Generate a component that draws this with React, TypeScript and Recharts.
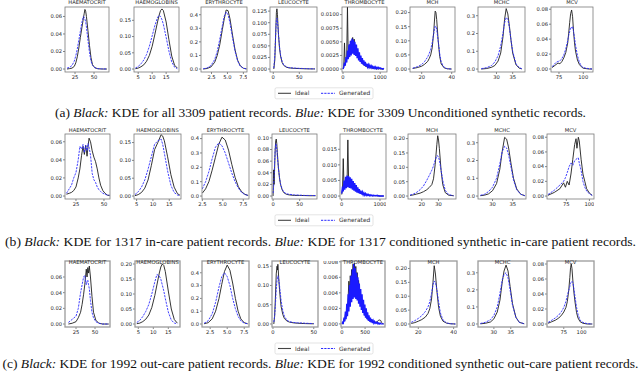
import { Line, LineChart, XAxis, YAxis } from "recharts";

// ---- shared x grids -------------------------------------------------------
const thrX20 = [0, 20, 40, 60, 80, 100, 120, 140, 160, 180, 200, 220, 240, 260, 280, 300, 320, 340, 360, 380, 400, 420, 440, 460, 480, 500, 520, 540, 560, 580, 600, 620, 640, 660, 680, 700, 720, 740, 760, 780, 800, 820, 840, 860, 880, 900, 920, 940, 960, 980, 1000, 1020, 1040, 1060, 1080, 1100];
const thrX15 = [0, 15, 30, 45, 60, 75, 90, 105, 120, 135, 150, 165, 180, 195, 210, 225, 240, 255, 270, 285, 300, 315, 330, 345, 360, 375, 390, 405, 420, 435, 450, 465, 480, 495, 510, 525, 540, 555, 570, 585, 600, 615, 630, 645, 660, 675, 690, 705, 720, 735, 750, 765, 780, 795, 810, 825, 840, 855, 870, 885, 900];

// ---- (a) all records ------------------------------------------------------
const aHctX = [14.5, 18, 21, 24, 26, 28, 30, 32, 34, 36, 37, 38, 39, 40, 42, 44, 46, 48, 51, 55, 60, 67];
const aHctIdeal = [0, 0.0005, 0.001, 0.003, 0.007, 0.014, 0.024, 0.036, 0.047, 0.058, 0.063, 0.068, 0.066, 0.06, 0.044, 0.027, 0.013, 0.005, 0.0015, 0.0003, 0, 0];
const aHctGen = [0.001, 0.002, 0.004, 0.009, 0.015, 0.023, 0.033, 0.043, 0.053, 0.06, 0.059, 0.057, 0.054, 0.048, 0.033, 0.019, 0.009, 0.004, 0.0015, 0.0005, 0.0002, 0];

const aHgbX = [4, 5, 6, 7, 8, 9, 10, 11, 12, 12.5, 13, 13.5, 14, 15, 16, 17, 18, 19];
const aHgbIdeal = [0.001, 0.003, 0.007, 0.013, 0.024, 0.042, 0.07, 0.108, 0.148, 0.166, 0.18, 0.185, 0.18, 0.145, 0.09, 0.04, 0.012, 0.003];
const aHgbGen = [0.003, 0.008, 0.016, 0.028, 0.045, 0.07, 0.102, 0.135, 0.16, 0.165, 0.162, 0.152, 0.138, 0.098, 0.055, 0.022, 0.006, 0.001];

const aEryX = [1.2, 1.8, 2.4, 3, 3.4, 3.8, 4.2, 4.5, 4.8, 5.1, 5.4, 5.8, 6.2, 6.6, 7, 7.5, 8];
const aEryIdeal = [0, 0.004, 0.015, 0.05, 0.1, 0.18, 0.29, 0.37, 0.435, 0.43, 0.37, 0.25, 0.14, 0.065, 0.025, 0.006, 0.001];
const aEryGen = [0.002, 0.008, 0.025, 0.07, 0.13, 0.22, 0.32, 0.39, 0.42, 0.4, 0.34, 0.23, 0.13, 0.06, 0.022, 0.006, 0.001];

const aLeuX = [1, 3, 5, 6, 7, 8, 9, 10, 12, 14, 17, 20, 25, 30, 40, 50, 60, 70, 80];
const aLeuIdeal = [0, 0.02, 0.09, 0.122, 0.13, 0.118, 0.095, 0.075, 0.045, 0.028, 0.014, 0.008, 0.004, 0.0025, 0.0015, 0.001, 0.0006, 0.0003, 0.0002];
const aLeuGen = [0.002, 0.03, 0.085, 0.105, 0.11, 0.104, 0.09, 0.074, 0.048, 0.03, 0.016, 0.009, 0.005, 0.003, 0.002, 0.0015, 0.001, 0.0006, 0.0004];

const aThrIdeal = [
  0, 0.0003, 0.0048, 0.0008, 0.0015, 0.0022, 0.0115, 0.0025, 0.0038, 0.0045,
  0.0032, 0.0052, 0.004, 0.0058, 0.0042, 0.0055, 0.0035, 0.0044, 0.003, 0.0036,
  0.0024, 0.0028, 0.0018, 0.0022, 0.0013, 0.0016, 0.001, 0.0012, 0.0007, 0.0009,
  0.0005, 0.0006, 0.0004, 0.0005, 0.0003, 0.0003, 0.0002, 0.0003, 0.0002, 0.0002,
  0.0001, 0.0001, 0.0002, 0.0001, 0.0001, 0, 0.0001, 0, 0, 0.0001,
  0, 0, 0, 0, 0, 0,
];
const aThrGen = [
  0, 0.0004, 0.0012, 0.0006, 0.0022, 0.0012, 0.0034, 0.0018, 0.0045, 0.0022,
  0.0052, 0.0025, 0.0056, 0.0028, 0.0054, 0.0026, 0.005, 0.0024, 0.0045, 0.002,
  0.0038, 0.0016, 0.0031, 0.0013, 0.0025, 0.001, 0.002, 0.0008, 0.0016, 0.0006,
  0.0013, 0.0005, 0.001, 0.0004, 0.0008, 0.0003, 0.0007, 0.0003, 0.0006, 0.0002,
  0.0005, 0.0002, 0.0004, 0.0001, 0.0004, 0.0001, 0.0003, 0.0001, 0.0003, 0.0001,
  0.0002, 0.0001, 0.0001, 0, 0.0001, 0,
];

const aMchX = [14, 17, 20, 22, 24, 25, 26, 27, 28, 28.5, 29, 29.5, 30, 31, 32, 33, 35, 37, 40];
const aMchIdeal = [0.002, 0.005, 0.01, 0.017, 0.027, 0.037, 0.05, 0.075, 0.13, 0.17, 0.205, 0.2, 0.175, 0.1, 0.045, 0.018, 0.004, 0.001, 0];
const aMchGen = [0.003, 0.008, 0.016, 0.027, 0.043, 0.055, 0.07, 0.092, 0.125, 0.142, 0.152, 0.15, 0.14, 0.1, 0.055, 0.024, 0.006, 0.001, 0];

const aMchcX = [25.3, 27, 28.5, 29.5, 30.5, 31.3, 32, 32.5, 33, 33.5, 34, 34.5, 35, 36, 37, 37.8];
const aMchcIdeal = [0, 0.003, 0.01, 0.02, 0.045, 0.09, 0.18, 0.28, 0.34, 0.31, 0.24, 0.16, 0.09, 0.025, 0.005, 0.001];
const aMchcGen = [0.002, 0.008, 0.02, 0.04, 0.075, 0.13, 0.2, 0.26, 0.29, 0.28, 0.23, 0.16, 0.1, 0.03, 0.008, 0.002];

const aMcvX = [68, 70, 72, 74, 76, 78, 80, 82, 84, 85, 86, 87, 88, 89, 90, 91, 92, 94, 96, 98, 100, 103, 106, 109];
const aMcvIdeal = [0.002, 0.004, 0.006, 0.008, 0.007, 0.01, 0.015, 0.022, 0.035, 0.048, 0.062, 0.074, 0.079, 0.07, 0.05, 0.035, 0.024, 0.012, 0.006, 0.003, 0.001, 0.0005, 0, 0];
const aMcvGen = [0.003, 0.006, 0.009, 0.01, 0.011, 0.014, 0.019, 0.027, 0.038, 0.045, 0.05, 0.056, 0.055, 0.057, 0.05, 0.042, 0.032, 0.018, 0.009, 0.004, 0.002, 0.001, 0.0005, 0];

// ---- (b) in-care ----------------------------------------------------------
const bHctX = [16.5, 19, 21, 23, 25, 27, 28.5, 30, 31.3, 32.5, 33.7, 34.9, 35.8, 36.7, 38, 39.5, 41, 42.5, 44, 45.5, 47, 49, 51, 53, 55];
const bHctIdeal = [0.002, 0.003, 0.004, 0.006, 0.01, 0.02, 0.03, 0.045, 0.055, 0.046, 0.056, 0.044, 0.055, 0.064, 0.06, 0.05, 0.043, 0.038, 0.03, 0.02, 0.012, 0.006, 0.003, 0.001, 0.0005];
const bHctGen = [0.003, 0.008, 0.012, 0.02, 0.026, 0.04, 0.055, 0.052, 0.057, 0.048, 0.056, 0.05, 0.058, 0.054, 0.045, 0.025, 0.018, 0.015, 0.01, 0.007, 0.005, 0.003, 0.002, 0.001, 0.001];

const bHgbX = [4.5, 5.5, 6.5, 7.5, 8.5, 9.5, 10.5, 11.5, 12.5, 13, 13.5, 14.5, 15.5, 16.5, 17.5, 18.3];
const bHgbIdeal = [0.001, 0.004, 0.01, 0.022, 0.045, 0.085, 0.13, 0.15, 0.172, 0.168, 0.155, 0.11, 0.06, 0.025, 0.007, 0.002];
const bHgbGen = [0.004, 0.012, 0.025, 0.045, 0.075, 0.11, 0.145, 0.155, 0.16, 0.145, 0.12, 0.07, 0.03, 0.01, 0.003, 0.001];

const bEryX = [2.5, 2.9, 3.3, 3.7, 4.1, 4.5, 4.9, 5.3, 5.7, 6.1, 6.5, 6.9, 7.3, 7.7, 8.1];
const bEryIdeal = [0.02, 0.05, 0.1, 0.18, 0.27, 0.36, 0.41, 0.39, 0.32, 0.22, 0.13, 0.065, 0.03, 0.012, 0.004];
const bEryGen = [0.05, 0.1, 0.17, 0.26, 0.34, 0.37, 0.35, 0.3, 0.23, 0.16, 0.1, 0.055, 0.025, 0.01, 0.004];

const bLeuX = [0, 1, 2, 3, 4, 5, 6, 7, 8, 10, 12, 14, 17, 20, 25, 30, 40, 50, 60, 70, 80];
const bLeuIdeal = [0, 0.045, 0.02, 0.05, 0.08, 0.095, 0.098, 0.09, 0.075, 0.05, 0.032, 0.02, 0.011, 0.006, 0.003, 0.002, 0.001, 0.001, 0.0008, 0.0005, 0.0005];
const bLeuGen = [0.005, 0.015, 0.035, 0.06, 0.08, 0.09, 0.088, 0.08, 0.068, 0.048, 0.032, 0.021, 0.012, 0.007, 0.004, 0.003, 0.002, 0.0015, 0.001, 0.001, 0.0008];

const bThrIdeal = [
  0.0005, 0.002, 0.012, 0.003, 0.0045, 0.004, 0.005, 0.0045, 0.018, 0.005,
  0.0055, 0.0048, 0.0052, 0.004, 0.0045, 0.0035, 0.0038, 0.003, 0.0028, 0.0024,
  0.002, 0.0018, 0.0015, 0.0012, 0.001, 0.0009, 0.0008, 0.0007, 0.0006, 0.0005,
  0.0005, 0.0004, 0.0004, 0.0003, 0.0003, 0.0003, 0.0002, 0.0002, 0.0002, 0.0002,
  0.0001, 0.0001, 0.0001, 0.0001, 0.0001, 0.0001, 0.0001, 0, 0.0001, 0,
  0, 0, 0, 0, 0, 0,
];
const bThrGen = [
  0.0008, 0.003, 0.0015, 0.005, 0.002, 0.0062, 0.0025, 0.0066, 0.0028, 0.0064,
  0.0026, 0.006, 0.0024, 0.0055, 0.002, 0.0048, 0.0017, 0.0042, 0.0014, 0.0035,
  0.0011, 0.0028, 0.0009, 0.0022, 0.0007, 0.0017, 0.0005, 0.0013, 0.0004, 0.001,
  0.0003, 0.0008, 0.0002, 0.0006, 0.0002, 0.0005, 0.0001, 0.0004, 0.0001, 0.0003,
  0.0001, 0.0003, 0.0001, 0.0002, 0.0001, 0.0002, 0.0001, 0.0002, 0, 0.0001,
  0, 0, 0, 0, 0, 0,
];

const bMchX = [13, 15, 17, 19, 21, 23, 24.5, 26, 27, 28, 29, 29.5, 30, 30.5, 31.5, 32.5, 34, 36, 39];
const bMchIdeal = [0.002, 0.004, 0.007, 0.01, 0.015, 0.022, 0.03, 0.04, 0.06, 0.11, 0.18, 0.21, 0.195, 0.165, 0.09, 0.04, 0.012, 0.003, 0.001];
const bMchGen = [0.003, 0.007, 0.013, 0.022, 0.035, 0.055, 0.072, 0.09, 0.105, 0.125, 0.14, 0.14, 0.135, 0.125, 0.09, 0.055, 0.02, 0.005, 0.001];

const bMchcX = [27, 28, 29, 30, 31, 31.8, 32.4, 33, 33.5, 34, 34.6, 35.2, 36, 37, 38];
const bMchcIdeal = [0.002, 0.005, 0.012, 0.03, 0.07, 0.15, 0.25, 0.33, 0.32, 0.27, 0.18, 0.1, 0.04, 0.01, 0.002];
const bMchcGen = [0.004, 0.01, 0.025, 0.05, 0.1, 0.18, 0.25, 0.28, 0.27, 0.23, 0.16, 0.09, 0.035, 0.01, 0.002];

const bMcvX = [55, 62, 68, 72, 74, 76, 78, 80, 82, 84, 85.5, 86.5, 88, 89, 91, 93, 95, 97, 100, 103];
const bMcvIdeal = [0.001, 0.005, 0.01, 0.018, 0.012, 0.02, 0.015, 0.03, 0.05, 0.07, 0.078, 0.065, 0.08, 0.075, 0.05, 0.03, 0.02, 0.01, 0.004, 0.001];
const bMcvGen = [0.002, 0.008, 0.015, 0.02, 0.025, 0.032, 0.04, 0.045, 0.042, 0.048, 0.05, 0.051, 0.052, 0.045, 0.035, 0.02, 0.012, 0.007, 0.003, 0.001];

// ---- (c) out-care ---------------------------------------------------------
const cHctX = [15, 20, 25, 28, 31, 33, 35, 36.5, 38.5, 39.5, 40.5, 41.5, 42.5, 44, 46, 48, 51, 55, 60, 68];
const cHctIdeal = [0, 0.001, 0.003, 0.008, 0.015, 0.025, 0.038, 0.05, 0.07, 0.06, 0.072, 0.065, 0.074, 0.06, 0.035, 0.015, 0.005, 0.001, 0, 0];
const cHctGen = [0.002, 0.006, 0.01, 0.02, 0.04, 0.05, 0.06, 0.062, 0.05, 0.054, 0.056, 0.05, 0.045, 0.03, 0.015, 0.008, 0.003, 0.001, 0, 0];

const cHgbX = [4.5, 5.5, 6.5, 7.5, 8.5, 9.5, 10.5, 11.2, 12, 12.5, 13, 13.5, 14, 15, 16, 17, 18];
const cHgbIdeal = [0.001, 0.003, 0.008, 0.016, 0.03, 0.055, 0.095, 0.13, 0.17, 0.19, 0.2, 0.195, 0.175, 0.11, 0.05, 0.015, 0.003];
const cHgbGen = [0.005, 0.012, 0.025, 0.042, 0.065, 0.1, 0.14, 0.165, 0.16, 0.15, 0.13, 0.11, 0.085, 0.04, 0.013, 0.003, 0.001];

const cEryX = [1.6, 2.2, 2.8, 3.3, 3.8, 4.2, 4.6, 5, 5.4, 5.8, 6.2, 6.6, 7, 7.5, 8];
const cEryIdeal = [0.002, 0.01, 0.04, 0.1, 0.2, 0.31, 0.41, 0.46, 0.42, 0.32, 0.2, 0.1, 0.04, 0.01, 0.002];
const cEryGen = [0.005, 0.025, 0.08, 0.17, 0.29, 0.37, 0.4, 0.37, 0.3, 0.2, 0.12, 0.06, 0.025, 0.007, 0.002];

const cLeuX = [1, 2, 3, 4, 5, 5.5, 6, 6.5, 7, 8, 9, 10, 12, 14, 17, 20, 25, 30, 40, 50];
const cLeuIdeal = [0, 0.02, 0.07, 0.13, 0.15, 0.14, 0.155, 0.14, 0.12, 0.09, 0.065, 0.045, 0.025, 0.014, 0.008, 0.005, 0.003, 0.002, 0.001, 0.0005];
const cLeuGen = [0.005, 0.02, 0.05, 0.09, 0.115, 0.12, 0.125, 0.122, 0.115, 0.1, 0.08, 0.06, 0.035, 0.02, 0.01, 0.006, 0.004, 0.003, 0.002, 0.001];

const cThrIdeal = [
  0, 0, 0.0002, 0.0006, 0.0004, 0.0012, 0.0009, 0.0022, 0.0018, 0.0034,
  0.0055, 0.0038, 0.0062, 0.0048, 0.007, 0.0058, 0.0077, 0.0062, 0.0078, 0.0064,
  0.0074, 0.0058, 0.0066, 0.005, 0.0056, 0.004, 0.0044, 0.003, 0.0032, 0.0022,
  0.0024, 0.0016, 0.0017, 0.0011, 0.0012, 0.0008, 0.0008, 0.0006, 0.0006, 0.0004,
  0.0004, 0.0003, 0.0003, 0.0003, 0.0002, 0.0002, 0.0002, 0.0002, 0.0002, 0.0002,
  0.0003, 0.0003, 0.0004, 0.0005, 0.0005, 0.0005, 0.0004, 0.0002, 0.0001, 0,
  0,
];
const cThrGen = [
  0, 0.0002, 0.0001, 0.0008, 0.0003, 0.0016, 0.0006, 0.0026, 0.001, 0.0038,
  0.0016, 0.005, 0.0022, 0.0062, 0.0028, 0.007, 0.0032, 0.0077, 0.0034, 0.0072,
  0.0032, 0.0066, 0.003, 0.006, 0.0026, 0.0052, 0.0022, 0.0045, 0.0018, 0.0038,
  0.0014, 0.0031, 0.0011, 0.0025, 0.0008, 0.002, 0.0006, 0.0015, 0.0004, 0.0011,
  0.0003, 0.0008, 0.0002, 0.0006, 0.0001, 0.0004, 0.0001, 0.0003, 0.0001, 0.0002,
  0.0001, 0.0002, 0, 0.0001, 0, 0.0001, 0, 0, 0, 0,
  0,
];

const cMchX = [16, 18, 20, 22, 24, 25.5, 26.5, 27.5, 28.3, 29, 29.7, 30.5, 31.5, 32.5, 34, 36, 38, 41];
const cMchIdeal = [0.002, 0.005, 0.01, 0.016, 0.025, 0.038, 0.055, 0.09, 0.15, 0.21, 0.18, 0.12, 0.06, 0.028, 0.01, 0.003, 0.001, 0];
const cMchGen = [0.006, 0.012, 0.02, 0.03, 0.045, 0.062, 0.08, 0.11, 0.14, 0.155, 0.15, 0.125, 0.08, 0.04, 0.014, 0.004, 0.001, 0];

const cMchcX = [26, 27.5, 29, 30, 31, 31.8, 32.5, 33, 33.6, 34.2, 34.8, 35.5, 36.5, 37.5, 39];
const cMchcIdeal = [0.001, 0.004, 0.012, 0.03, 0.07, 0.14, 0.25, 0.31, 0.345, 0.31, 0.22, 0.12, 0.04, 0.01, 0.001];
const cMchcGen = [0.003, 0.01, 0.025, 0.05, 0.1, 0.18, 0.26, 0.29, 0.3, 0.27, 0.2, 0.11, 0.04, 0.01, 0.001];

const cMcvX = [53, 58, 63, 68, 72, 75, 78, 80, 82, 83.5, 84.5, 85.5, 86.5, 88, 89.5, 91, 93, 95, 98, 102, 108, 115];
const cMcvIdeal = [0.001, 0.003, 0.005, 0.008, 0.012, 0.016, 0.022, 0.03, 0.045, 0.062, 0.075, 0.08, 0.074, 0.055, 0.04, 0.028, 0.015, 0.008, 0.003, 0.001, 0, 0];
const cMcvGen = [0.002, 0.005, 0.008, 0.012, 0.017, 0.022, 0.03, 0.038, 0.045, 0.05, 0.054, 0.056, 0.057, 0.055, 0.045, 0.035, 0.022, 0.013, 0.005, 0.002, 0.0005, 0];

// ---- tick labels ----------------------------------------------------------
const titles = ["HAEMATOCRIT", "HAEMOGLOBINS", "ERYTHROCYTE", "LEUCOCYTE", "THROMBOCYTE", "MCH", "MCHC", "MCV"];
const hctTicks = [0, 0.02, 0.04, 0.06];
const hgbTicks = [0, 0.05, 0.1, 0.15];
const hgbTicksC = [0, 0.05, 0.1, 0.15, 0.2];
const eryTicks = [0, 0.1, 0.2, 0.3, 0.4];
const leuTicksA = [0, 0.025, 0.05, 0.075, 0.1, 0.125];
const leuTicksB = [0, 0.02, 0.04, 0.06, 0.08, 0.1];
const leuTicksC = [0, 0.05, 0.1, 0.15];
const thrTicksA = [0, 0.0025, 0.005, 0.0075, 0.01];
const thrTicksB = [0, 0.005, 0.01, 0.015];
const thrTicksC = [0, 0.002, 0.004, 0.006, 0.008];
const mchTicks = [0, 0.05, 0.1, 0.15, 0.2];
const mchcTicks = [0, 0.1, 0.2, 0.3];
const mcvTicks = [0, 0.02, 0.04, 0.06, 0.08];

const captions = [
  ["(a) ", "Black:", " KDE for all 3309 patient records. ", "Blue:", " KDE for 3309 Unconditioned synthetic records."],
  ["(b) ", "Black:", " KDE for 1317 in-care patient records. ", "Blue:", " KDE for 1317 conditioned synthetic in-care patient records."],
  ["(c) ", "Black:", " KDE for 1992 out-care patient records. ", "Blue:", " KDE for 1992 conditioned synthetic out-care patient records."],
];

type Panel = {
  x: number[];
  ideal: number[];
  gen: number[];
  xDomain: [number, number];
  xTicks: number[];
  xDec: number;
  yDomain: [number, number];
  yTicks: number[];
  yDec: number;
  noisy?: boolean;
};

const rowA: Panel[] = [
  { x: aHctX, ideal: aHctIdeal, gen: aHctGen, xDomain: [11.8, 69.7], xTicks: [25, 50], xDec: 0, yDomain: [-0.0034, 0.0708], yTicks: hctTicks, yDec: 2 },
  { x: aHgbX, ideal: aHgbIdeal, gen: aHgbGen, xDomain: [3.5, 19.6], xTicks: [5, 10, 15], xDec: 0, yDomain: [-0.0091, 0.191], yTicks: hgbTicks, yDec: 2 },
  { x: aEryX, ideal: aEryIdeal, gen: aEryGen, xDomain: [0.85, 8.07], xTicks: [2.5, 5, 7.5], xDec: 1, yDomain: [-0.0218, 0.457], yTicks: eryTicks, yDec: 1 },
  { x: aLeuX, ideal: aLeuIdeal, gen: aLeuGen, xDomain: [-6.3, 84], xTicks: [0, 50], xDec: 0, yDomain: [-0.0064, 0.1339], yTicks: leuTicksA, yDec: 3 },
  { x: thrX20, ideal: aThrIdeal, gen: aThrGen, xDomain: [-27, 1183], xTicks: [0, 1000], xDec: 0, yDomain: [-0.00054, 0.0114], yTicks: thrTicksA, yDec: 4, noisy: true },
  { x: aMchX, ideal: aMchIdeal, gen: aMchGen, xDomain: [12.2, 42.2], xTicks: [20, 40], xDec: 0, yDomain: [-0.0105, 0.2197], yTicks: mchTicks, yDec: 2 },
  { x: aMchcX, ideal: aMchcIdeal, gen: aMchcGen, xDomain: [24.3, 38.8], xTicks: [30, 35], xDec: 0, yDomain: [-0.0166, 0.349], yTicks: mchcTicks, yDec: 1 },
  { x: aMcvX, ideal: aMcvIdeal, gen: aMcvGen, xDomain: [66.8, 110], xTicks: [75, 100], xDec: 0, yDomain: [-0.004, 0.083], yTicks: mcvTicks, yDec: 2 },
];

const rowB: Panel[] = [
  { x: bHctX, ideal: bHctIdeal, gen: bHctGen, xDomain: [15.2, 55.4], xTicks: [25, 50], xDec: 0, yDomain: [-0.0033, 0.0686], yTicks: hctTicks, yDec: 2 },
  { x: bHgbX, ideal: bHgbIdeal, gen: bHgbGen, xDomain: [4.2, 18.6], xTicks: [5, 10, 15], xDec: 0, yDomain: [-0.0083, 0.174], yTicks: hgbTicks, yDec: 2 },
  { x: bEryX, ideal: bEryIdeal, gen: bEryGen, xDomain: [2.46, 8.2], xTicks: [2.5, 5, 7.5], xDec: 1, yDomain: [-0.0206, 0.432], yTicks: eryTicks, yDec: 1 },
  { x: bLeuX, ideal: bLeuIdeal, gen: bLeuGen, xDomain: [-2, 82.6], xTicks: [0, 50], xDec: 0, yDomain: [-0.0051, 0.1067], yTicks: leuTicksB, yDec: 2 },
  { x: thrX20, ideal: bThrIdeal, gen: bThrGen, xDomain: [-45, 1157], xTicks: [0, 1000], xDec: 0, yDomain: [-0.00095, 0.0199], yTicks: thrTicksB, yDec: 3, noisy: true },
  { x: bMchX, ideal: bMchIdeal, gen: bMchGen, xDomain: [11.8, 40.4], xTicks: [20, 30], xDec: 0, yDomain: [-0.0103, 0.216], yTicks: mchTicks, yDec: 2 },
  { x: bMchcX, ideal: bMchcIdeal, gen: bMchcGen, xDomain: [26.4, 38.3], xTicks: [30, 35], xDec: 0, yDomain: [-0.0166, 0.349], yTicks: mchcTicks, yDec: 1 },
  { x: bMcvX, ideal: bMcvIdeal, gen: bMcvGen, xDomain: [54, 105], xTicks: [75, 100], xDec: 0, yDomain: [-0.004, 0.0844], yTicks: mcvTicks, yDec: 2 },
];

const rowC: Panel[] = [
  { x: cHctX, ideal: cHctIdeal, gen: cHctGen, xDomain: [10.5, 69.7], xTicks: [25, 50], xDec: 0, yDomain: [-0.0038, 0.0804], yTicks: hctTicks, yDec: 2 },
  { x: cHgbX, ideal: cHgbIdeal, gen: cHgbGen, xDomain: [3.9, 18.9], xTicks: [5, 10, 15], xDec: 0, yDomain: [-0.01, 0.21], yTicks: hgbTicksC, yDec: 2 },
  { x: cEryX, ideal: cEryIdeal, gen: cEryGen, xDomain: [1.3, 8.2], xTicks: [2.5, 5, 7.5], xDec: 1, yDomain: [-0.0234, 0.492], yTicks: eryTicks, yDec: 1 },
  { x: cLeuX, ideal: cLeuIdeal, gen: cLeuGen, xDomain: [-1.2, 55.2], xTicks: [0, 50], xDec: 0, yDomain: [-0.0078, 0.1635], yTicks: leuTicksC, yDec: 2 },
  { x: thrX15, ideal: cThrIdeal, gen: cThrGen, xDomain: [-20, 930], xTicks: [0, 500], xDec: 0, yDomain: [-0.0004, 0.0081], yTicks: thrTicksC, yDec: 3, noisy: true },
  { x: cMchX, ideal: cMchIdeal, gen: cMchGen, xDomain: [15.3, 41.9], xTicks: [20, 40], xDec: 0, yDomain: [-0.0108, 0.227], yTicks: mchTicks, yDec: 2 },
  { x: cMchcX, ideal: cMchcIdeal, gen: cMchcGen, xDomain: [25.3, 39.8], xTicks: [30, 35], xDec: 0, yDomain: [-0.0176, 0.369], yTicks: mchcTicks, yDec: 1 },
  { x: cMcvX, ideal: cMcvIdeal, gen: cMcvGen, xDomain: [51.4, 117.5], xTicks: [75, 100], xDec: 0, yDomain: [-0.004, 0.084], yTicks: mcvTicks, yDec: 2 },
];

// ---- layout (plot boxes: left, width) ------------------------------------
const rows = [
  { panels: rowA, top: 7, h: 65, boxes: [[65, 44], [134, 45], [201, 46], [270, 47], [342, 45], [410, 45], [478, 47], [551, 42]], titleY: 4.3, legendY: 93.3, captionY: 116.5, captionW: 531, frame: "#7a7a7a", frameW: 0.8 },
  { panels: rowB, top: 134, h: 65, boxes: [[65, 45], [134, 47], [202, 47], [272, 45], [340, 46], [408, 48], [478, 48], [547, 47]], titleY: 131.5, legendY: 220.3, captionY: 246, captionW: 631, frame: "#7a7a7a", frameW: 0.8 },
  { panels: rowC, top: 261, h: 66, boxes: [[65, 45], [135, 45], [202, 47], [272, 46], [341, 44], [410, 47], [478, 49], [547, 47]], titleY: 263.5, legendY: 348.5, captionY: 367.8, captionW: 636, frame: "#9a9a9a", frameW: 1.3 },
];

const YW = 26;
const XH = 12;
const tickStyle = { fontSize: 5.2, fill: "#262626", fontFamily: "DejaVu Sans" };
const tickLine = { stroke: "#333", strokeWidth: 0.6 };

function Kde({ p, left, top, w, h }: { p: Panel; left: number; top: number; w: number; h: number }) {
  const data = p.x.map((x, i) => ({ x, ideal: p.ideal[i], gen: p.gen[i] }));
  return (
    <div style={{ position: "absolute", left: left - YW, top }}>
      <LineChart width={w + YW} height={h + XH} data={data} margin={{ top: 0, right: 0, bottom: 0, left: 0 }}>
        <XAxis
          type="number"
          dataKey="x"
          domain={p.xDomain}
          ticks={p.xTicks}
          allowDataOverflow
          interval={0}
          height={XH}
          axisLine={false}
          tickSize={2}
          tickMargin={1}
          tick={tickStyle}
          tickLine={tickLine}
          tickFormatter={(v: number) => v.toFixed(p.xDec)}
        />
        <YAxis
          type="number"
          domain={p.yDomain}
          ticks={p.yTicks}
          allowDataOverflow
          interval={0}
          width={YW}
          axisLine={false}
          tickSize={2}
          tickMargin={1}
          tick={tickStyle}
          tickLine={tickLine}
          tickFormatter={(v: number) => v.toFixed(p.yDec)}
        />
        <Line type="linear" dataKey="ideal" stroke="#1e1e1e" strokeWidth={0.9} dot={false} isAnimationActive={false} />
        <Line
          type="linear"
          dataKey="gen"
          stroke={p.noisy ? "#1a1aff" : "#2b2bff"}
          strokeWidth={p.noisy ? 1.4 : 0.9}
          strokeDasharray={p.noisy ? undefined : "2.2 1.1"}
          dot={false}
          isAnimationActive={false}
        />
      </LineChart>
    </div>
  );
}

function Legend({ cy }: { cy: number }) {
  return (
    <g fontFamily="DejaVu Sans" fontSize={5.9} fill="#333">
      <rect x={275} y={cy - 5.5} width={98} height={11} rx={1.5} fill="#fff" stroke="#d0d0d0" strokeWidth={0.6} />
      <line x1={278} x2={291} y1={cy} y2={cy} stroke="#444" strokeWidth={1.1} />
      <text x={295} y={cy + 2}>Ideal</text>
      <line x1={321} x2={335} y1={cy} y2={cy} stroke="#2b2bff" strokeWidth={1} strokeDasharray="2.2 1.1" />
      <text x={339} y={cy + 2}>Generated</text>
    </g>
  );
}

export default function App() {
  return (
    <div style={{ position: "absolute", left: 0, top: 0, width: 640, height: 371, overflow: "hidden", background: "#fff" }}>
      {rows.map((r, ri) =>
        r.panels.map((p, i) => (
          <Kde key={`${ri}-${i}`} p={p} left={r.boxes[i][0]} top={r.top} w={r.boxes[i][1]} h={r.h} />
        ))
      )}
      <svg width={640} height={371} style={{ position: "absolute", left: 0, top: 0, pointerEvents: "none" }}>
        {rows.map((r, ri) => (
          <g key={ri}>
            {r.boxes.map(([l, w], i) => (
              <rect key={i} x={l} y={r.top} width={w} height={r.h} fill="none" stroke={r.frame} strokeWidth={r.frameW} />
            ))}
            {r.boxes.map(([l, w], i) => (
              <text key={`t${i}`} x={l + w / 2} y={r.titleY} textAnchor="middle" fontFamily="DejaVu Sans" fontSize={5.2} fill="#262626">
                {titles[i]}
              </text>
            ))}
            <Legend cy={r.legendY} />
            <text
              x={320.5}
              y={r.captionY}
              textAnchor="middle"
              fontFamily="Liberation Serif"
              fontSize={12.5}
              fill="#111"
              textLength={r.captionW}
              lengthAdjust="spacingAndGlyphs"
            >
              {captions[ri].map((s, k) => (
                <tspan key={k} fontStyle={k === 1 || k === 3 ? "italic" : "normal"}>
                  {s}
                </tspan>
              ))}
            </text>
          </g>
        ))}
      </svg>
    </div>
  );
}
